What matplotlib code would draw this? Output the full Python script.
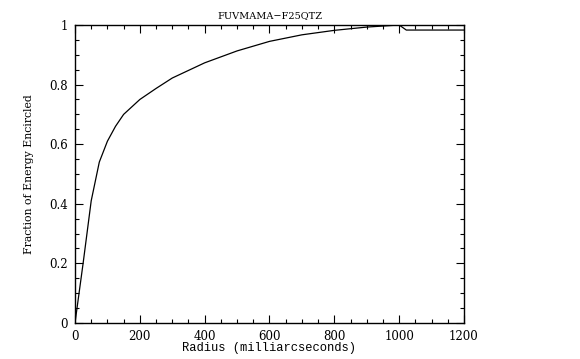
import numpy as np
import matplotlib
matplotlib.use("Agg")
import matplotlib.pyplot as plt
from matplotlib.ticker import MultipleLocator

# encircled energy curve
radius = [0, 12.5, 25, 50, 75, 100, 125, 150, 200, 250, 300, 400, 500, 600, 700, 800, 900, 1000, 1022, 1200]
energy = [0, 0.10, 0.20, 0.41, 0.54, 0.61, 0.66, 0.70, 0.75, 0.787, 0.822, 0.873, 0.913, 0.945, 0.967, 0.982, 0.993, 1.0, 0.983, 0.983]

plt.rcParams['font.family'] = ['DejaVu Serif']
plt.rcParams['font.size'] = 8

fig = plt.figure(figsize=(5.8, 3.59), dpi=100)
ax = fig.add_axes([0.1293, 0.1003, 0.8000 - 0.1293, 0.9304 - 0.1003])

ax.plot(radius, energy, color='black', lw=0.9)

ax.set_xlim(0, 1200)
ax.set_ylim(0, 1)
ax.xaxis.set_major_locator(MultipleLocator(200))
ax.xaxis.set_minor_locator(MultipleLocator(50))
ax.set_yticks([0, 0.2, 0.4, 0.6, 0.8, 1])
ax.set_yticklabels(['0', '0.2', '0.4', '0.6', '0.8', '1'])
ax.yaxis.set_minor_locator(MultipleLocator(0.05))
ax.tick_params(which='both', direction='in', top=True, right=True, width=0.8, labelsize=8.5)
ax.tick_params(which='major', length=5.8, pad=5)
ax.tick_params(which='minor', length=2.9)
for s in ax.spines.values():
    s.set_linewidth(1.0)

ax.set_xlabel('Radius (milliarcseconds)', family='Liberation Mono', fontsize=8.7, labelpad=-1)
ax.set_ylabel('Fraction of Energy Encircled', fontsize=7.8, labelpad=11)
ax.set_title('FUVMAMA\u2212F25QTZ', fontsize=7, pad=5)

fig.savefig('out.png', dpi=100)
